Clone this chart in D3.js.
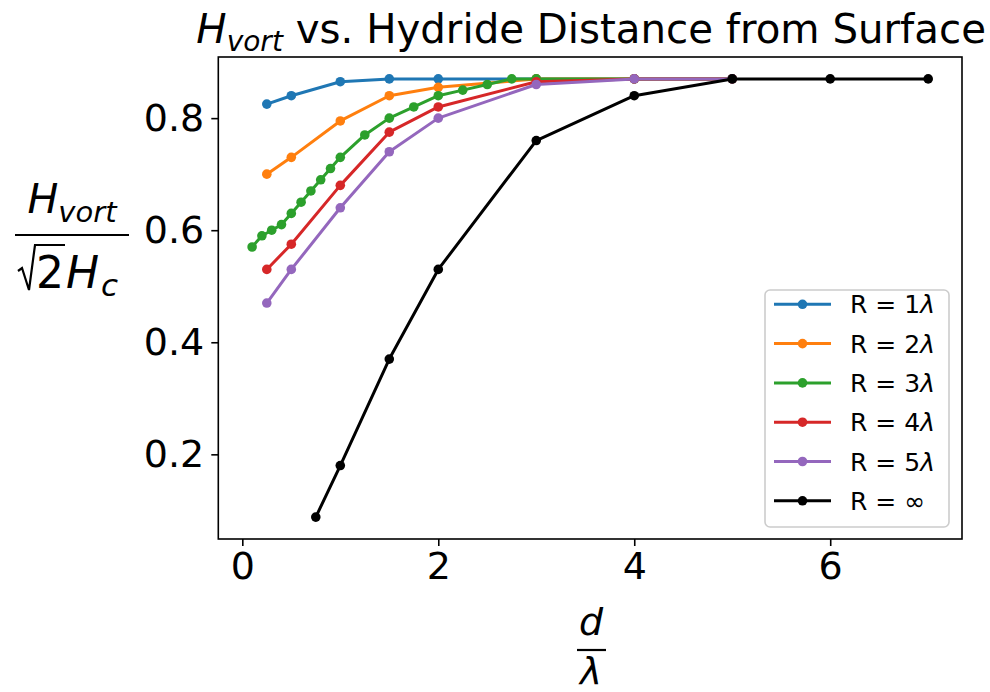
<!DOCTYPE html>
<html>

<head>
    <style>
        body {
            margin: 0;
            background: white;
        }

        svg text {
            font-family: "DejaVu Sans", sans-serif;
        }

        .tick text {
            font-size: 38px;
        }
    </style>
</head>

<body>
    <div id="chart"></div>
    <script src="https://cdn.jsdelivr.net/npm/d3@7"></script>
    <script>

        // data: d / lambda  vs  H_vort / (sqrt(2) H_c)
        const seriesNames = ["R = 1", "R = 2", "R = 3", "R = 4", "R = 5", "R = "]
        const seriesColors = ["#1f77b4", "#ff7f0e", "#2ca02c", "#d62728", "#9467bd", "#000000"]

        const r1X = [0.25, 0.5, 1, 1.5, 2, 3, 4, 5]
        const r1Y = [0.825, 0.84, 0.865, 0.87, 0.87, 0.87, 0.87, 0.87]

        const r2X = [0.25, 0.5, 1, 1.5, 2, 3, 4, 5]
        const r2Y = [0.70, 0.73, 0.795, 0.84, 0.855, 0.87, 0.87, 0.87]

        const r3X = [0.1, 0.2, 0.3, 0.4, 0.5, 0.6, 0.7, 0.8, 0.9, 1, 1.25, 1.5, 1.75, 2, 2.25, 2.5, 2.75, 3, 4, 5]
        const r3Y = [0.57, 0.59, 0.60, 0.61, 0.63, 0.65, 0.67, 0.69, 0.71, 0.73, 0.77, 0.80, 0.82, 0.84, 0.85, 0.86, 0.87, 0.87, 0.87, 0.87]

        const r4X = [0.25, 0.5, 1, 1.5, 2, 3, 4, 5]
        const r4Y = [0.53, 0.575, 0.68, 0.775, 0.82, 0.865, 0.87, 0.87]

        const r5X = [0.25, 0.5, 1, 1.5, 2, 3, 4, 5]
        const r5Y = [0.47, 0.53, 0.64, 0.74, 0.80, 0.86, 0.87, 0.87]

        const rInfX = [0.75, 1, 1.5, 2, 3, 4, 5, 6, 7]
        const rInfY = [0.088, 0.18, 0.37, 0.53, 0.76, 0.84, 0.87, 0.87, 0.87]

        const xTicks = [0, 2, 4, 6]
        const yTicks = [0.2, 0.4, 0.6, 0.8]

        const allX = [r1X, r2X, r3X, r4X, r5X, rInfX]
        const allY = [r1Y, r2Y, r3Y, r4Y, r5Y, rInfY]

        const series = allX.map((xs, i) => ({
            name: seriesNames[i],
            color: seriesColors[i],
            inf: i == 5,
            points: xs.map((x, j) => [x, allY[i][j]])
        }))

        let width = 990
        let height = 692
        const plotLeft = 218.3, plotRight = 962, plotTop = 57, plotBottom = 539

        let svg = d3.select("#chart")
            .append("svg")
            .attr("width", width)
            .attr("height", height)

        // matplotlib style 5% margins
        const xs = d3.merge(allX), ys = d3.merge(allY)
        const xPad = (d3.max(xs) - d3.min(xs)) * 0.05
        const yPad = (d3.max(ys) - d3.min(ys)) * 0.05

        let x = d3.scaleLinear()
            .domain([d3.min(xs) - xPad, d3.max(xs) + xPad])
            .range([plotLeft, plotRight])
        let y = d3.scaleLinear()
            .domain([d3.min(ys) - yPad, d3.max(ys) + yPad])
            .range([plotBottom, plotTop])

        let line = d3.line().x(d => x(d[0])).y(d => y(d[1]))

        let plot = svg.append("g")
        series.forEach(s => {
            plot.append("path")
                .attr("d", line(s.points))
                .attr("fill", "none")
                .attr("stroke", s.color)
                .attr("stroke-width", 3)
                .attr("stroke-linejoin", "round")
            plot.selectAll(null)
                .data(s.points)
                .enter().append("circle")
                .attr("cx", d => x(d[0]))
                .attr("cy", d => y(d[1]))
                .attr("r", 4.8)
                .attr("fill", s.color)
        })

        // frame
        svg.append("rect")
            .attr("x", plotLeft).attr("y", plotTop)
            .attr("width", plotRight - plotLeft).attr("height", plotBottom - plotTop)
            .attr("fill", "none")
            .attr("stroke", "black")
            .attr("stroke-width", 1.6)

        let xAxis = svg.append("g")
            .attr("transform", `translate(0,${plotBottom})`)
            .call(d3.axisBottom(x).tickValues(xTicks).tickFormat(d3.format("d")).tickSize(7).tickPadding(6))
        let yAxis = svg.append("g")
            .attr("transform", `translate(${plotLeft},0)`)
            .call(d3.axisLeft(y).tickValues(yTicks).tickFormat(d3.format(".1f")).tickSize(7).tickPadding(7))
        svg.selectAll(".domain").remove()
        svg.selectAll(".tick line").attr("stroke-width", 1.6)
        svg.selectAll(".tick text").attr("fill", "black")

        // title
        let title = svg.append("text")
            .attr("x", (plotLeft + plotRight) / 2 + 1)
            .attr("y", 43)
            .attr("text-anchor", "middle")
            .style("font-size", "40.3px")
        title.append("tspan").attr("font-style", "italic").text("H")
        title.append("tspan").attr("font-style", "italic").attr("font-size", "28px").attr("dy", 8).text("vort")
        title.append("tspan").attr("dy", -8).text(" vs. Hydride Distance from Surface")

        // y label: H_vort / (sqrt(2) H_c)
        let yl = svg.append("g")
        let num = yl.append("text")
            .attr("x", 72).attr("y", 213)
            .attr("text-anchor", "middle")
            .style("font-size", "41px")
            .attr("font-style", "italic")
        num.append("tspan").text("H")
        num.append("tspan").attr("font-size", "29px").attr("dy", 9).text("vort")
        yl.append("line")
            .attr("x1", 15).attr("x2", 129)
            .attr("y1", 235).attr("y2", 235)
            .attr("stroke", "black").attr("stroke-width", 2.2)
        yl.append("path")
            .attr("d", "M18,271 L22,268 L29,290 L35,245 L65,245")
            .attr("fill", "none")
            .attr("stroke", "black").attr("stroke-width", 2.2)
        yl.append("text")
            .attr("x", 36).attr("y", 288)
            .style("font-size", "44px")
            .text("2")
        let den = yl.append("text")
            .attr("x", 66).attr("y", 288)
            .style("font-size", "44px")
            .attr("font-style", "italic")
        den.append("tspan").text("H")
        den.append("tspan").attr("font-size", "31px").attr("dx", 2).attr("dy", 8).text("c")

        // x label: d / lambda
        svg.append("text")
            .attr("x", 591).attr("y", 635)
            .attr("text-anchor", "middle")
            .attr("font-style", "italic")
            .style("font-size", "38px")
            .text("d")
        svg.append("line")
            .attr("x1", 577).attr("x2", 606)
            .attr("y1", 650).attr("y2", 650)
            .attr("stroke", "black").attr("stroke-width", 2.2)
        svg.append("text")
            .attr("x", 591).attr("y", 684)
            .attr("text-anchor", "middle")
            .attr("font-style", "italic")
            .style("font-size", "37px")
            .text("λ")

        // legend
        let legend = svg.append("g")
        legend.append("rect")
            .attr("x", 765).attr("y", 290)
            .attr("width", 184).attr("height", 237)
            .attr("rx", 5)
            .attr("fill", "white").attr("fill-opacity", 0.8)
            .attr("stroke", "#cccccc").attr("stroke-width", 1.6)
        series.forEach((s, i) => {
            let ly = 304.3 + i * 39.3
            legend.append("line")
                .attr("x1", 774).attr("x2", 831)
                .attr("y1", ly).attr("y2", ly)
                .attr("stroke", s.color).attr("stroke-width", 3)
            legend.append("circle")
                .attr("cx", 802.5).attr("cy", ly).attr("r", 4.8)
                .attr("fill", s.color)
            let t = legend.append("text")
                .attr("x", 850).attr("y", ly)
                .attr("dy", "0.36em")
                .style("font-size", "25px")
            t.append("tspan").text(s.name)
            if (s.inf) t.append("tspan").text("∞")
            else t.append("tspan").attr("font-style", "italic").text("λ")
        })

    </script>
</body>

</html>
